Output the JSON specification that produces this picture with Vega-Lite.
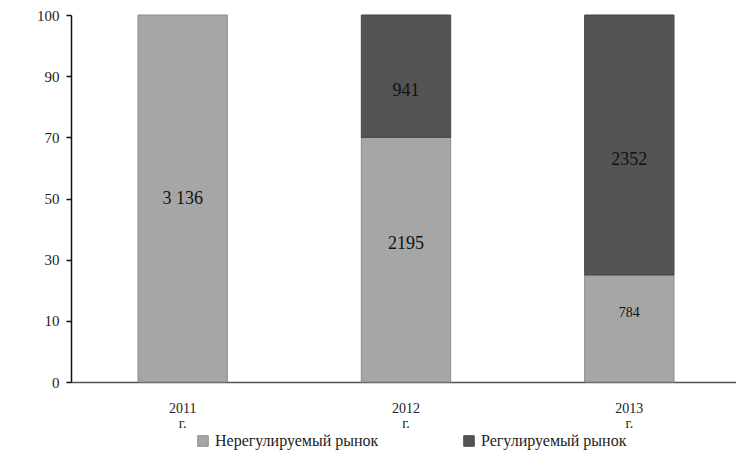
{
  "$schema": "https://vega.github.io/schema/vega-lite/v6.json",
  "autosize": "none",
  "width": 670,
  "height": 367,
  "padding": {"left": 71, "top": 15, "right": 0, "bottom": 70},
  "background": "white",
  "config": {
    "view": {"stroke": null},
    "font": "Liberation Serif",
    "axis": {"grid": false, "labelFont": "Liberation Serif", "titleFont": "Liberation Serif"},
    "legend": {"labelFont": "Liberation Serif", "titleFont": "Liberation Serif"}
  },
  "data": {
    "values": [
      {"year": "2011 г.", "market": "Нерегулируемый рынок", "value": 3136, "label": "3 136"},
      {"year": "2011 г.", "market": "Регулируемый рынок", "value": 0, "label": ""},
      {"year": "2012 г.", "market": "Нерегулируемый рынок", "value": 2195, "label": "2195"},
      {"year": "2012 г.", "market": "Регулируемый рынок", "value": 941, "label": "941"},
      {"year": "2013 г.", "market": "Нерегулируемый рынок", "value": 784, "label": "784"},
      {"year": "2013 г.", "market": "Регулируемый рынок", "value": 2352, "label": "2352"}
    ]
  },
  "transform": [
    {"calculate": "datum.market === 'Нерегулируемый рынок' ? 0 : 1", "as": "ord"},
    {"stack": "value", "groupby": ["year"], "sort": [{"field": "ord", "order": "ascending"}], "offset": "normalize", "as": ["y0", "y1"]},
    {"calculate": "(datum.y0 + datum.y1) / 2", "as": "ymid"},
    {"filter": "datum.value > 0"}
  ],
  "encoding": {
    "x": {
      "field": "year", "type": "nominal", "title": null,
      "scale": {"paddingInner": 0.6, "paddingOuter": 0.3},
      "axis": {
        "labelAngle": 0, "ticks": false, "domainColor": "#555555", "domainWidth": 1.5,
        "labelFontSize": 14, "labelColor": "#222222", "labelPadding": 19,
        "labelLineHeight": 15, "labelExpr": "split(datum.label, ' ')"
      }
    }
  },
  "layer": [
    {
      "mark": {"type": "bar", "strokeWidth": 1},
      "encoding": {
        "y": {
          "field": "y0", "type": "quantitative", "title": null,
          "scale": {"type": "linear", "domain": [0, 0.1, 0.3, 0.5, 0.7, 0.9, 1], "range": [367, 305.83, 244.67, 183.5, 122.33, 61.17, 0], "nice": false, "zero": false},
          "axis": {
            "values": [0, 0.1, 0.3, 0.5, 0.7, 0.9, 1],
            "labelExpr": "format(datum.value * 100, 'd')",
            "domainColor": "#111111", "domainWidth": 1.5, "tickColor": "#111111", "tickWidth": 1.5, "tickSize": 5,
            "labelFontSize": 15, "labelColor": "#222222", "labelPadding": 7
          }
        },
        "y2": {"field": "y1"},
        "fill": {
          "field": "market", "type": "nominal", "title": null,
          "scale": {"domain": ["Нерегулируемый рынок", "Регулируемый рынок"], "range": ["#a6a6a6", "#545454"]},
          "legend": {
            "orient": "none", "legendX": 124, "legendY": 418, "direction": "horizontal",
            "symbolType": "square", "symbolSize": 110,
            "symbolStrokeColor": "#888888", "symbolStrokeWidth": 1,
            "labelFont": "Liberation Serif", "labelFontSize": 16, "labelColor": "#222222",
            "columnPadding": 82, "labelOffset": 4, "labelLimit": 300
          }
        },
        "stroke": {
          "field": "market", "type": "nominal", "legend": null,
          "scale": {"domain": ["Нерегулируемый рынок", "Регулируемый рынок"], "range": ["#8a8a8a", "#444444"]}
        }
      }
    },
    {
      "mark": {"type": "text", "color": "#111111", "font": "Liberation Serif"},
      "encoding": {
        "y": {"field": "ymid", "type": "quantitative"},
        "text": {"field": "label"},
        "size": {"condition": {"test": "datum.value < 900", "value": 14}, "value": 18}
      }
    }
  ]
}
